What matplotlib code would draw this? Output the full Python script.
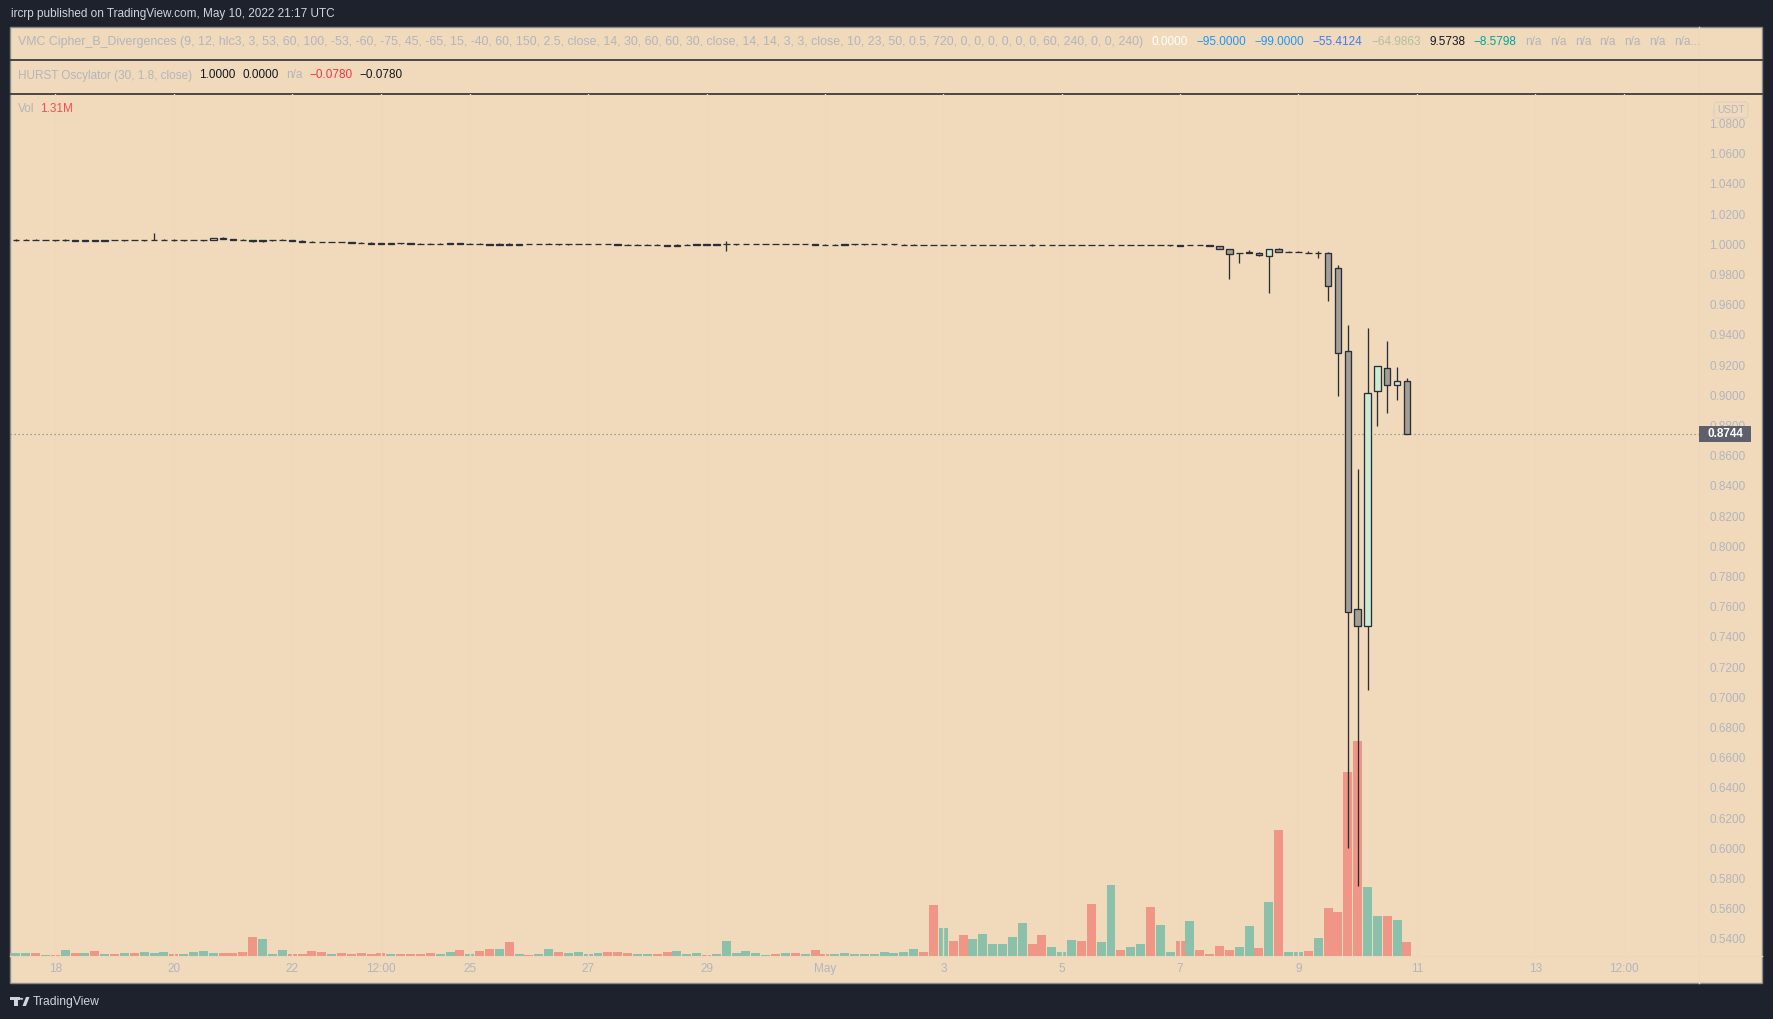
import matplotlib
matplotlib.use("Agg")
import matplotlib.pyplot as plt
import matplotlib.dates as mdates
import matplotlib.transforms as mtransforms
from matplotlib.patches import Rectangle, Polygon, Circle
from matplotlib.lines import Line2D
import pandas as pd

plt.rcParams['font.family'] = ['Liberation Sans', 'DejaVu Sans']

# ----------------------------------------------------------------- data
bar_start = '2022-04-17 04:00'   # 4h candles
bar_freq = '4h'

opens = [
    1.0030, 1.0026, 1.0029, 1.0030, 1.0027,                  # Apr 17
    1.0029, 1.0025, 1.0028, 1.0021, 1.0027, 1.0020,          # Apr 18
    1.0028, 1.0026, 1.0028, 1.0026, 1.0028, 1.0029,          # Apr 19
    1.0030, 1.0025, 1.0026, 1.0025, 1.0026, 1.0042,          # Apr 20
    1.0036, 1.0030, 1.0027, 1.0020, 1.0026, 1.0027,          # Apr 21
    1.0028, 1.0023, 1.0018, 1.0016, 1.0013, 1.0016,          # Apr 22
    1.0013, 1.0010, 1.0011, 1.0006, 1.0005, 1.0007,          # Apr 23
    1.0006, 1.0005, 1.0004, 1.0003, 1.0005, 1.0006,          # Apr 24
    1.0001, 1.0004, 1.0002, 0.9997, 1.0004, 0.9996,          # Apr 25
    1.0002, 1.0000, 1.0002, 1.0004, 0.9999, 1.0001,          # Apr 26
    1.0002, 1.0003, 1.0004, 1.0000, 0.9997, 0.9994,          # Apr 27
    0.9997, 0.9998, 0.9993, 0.9991, 0.9997, 0.9998,          # Apr 28
    0.9999, 0.9998, 0.9999, 1.0000, 1.0001, 1.0002,          # Apr 29
    1.0003, 1.0003, 1.0001, 1.0002, 1.0000, 1.0001,          # Apr 30
    0.9998, 0.9997, 0.9998, 0.9999, 0.9999, 1.0000,          # May 1
    1.0000, 0.9999, 0.9998, 0.9997, 0.9997, 0.9996,          # May 2
    0.9995, 0.9996, 0.9995, 0.9994, 0.9995, 0.9996,          # May 3
    0.9996, 0.9996, 0.9995, 0.9995, 0.9994, 0.9993,          # May 4
    0.9995, 0.9995, 0.9995, 0.9994, 0.9993, 0.9995,          # May 5
    0.9995, 0.9994, 0.9995, 0.9996, 0.9994, 0.9992,          # May 6
    0.9994, 0.9993, 0.9995, 0.9994, 0.9988, 0.9967,          # May 7
    0.9942, 0.9944, 0.9945, 0.9920, 0.9967, 0.9947,          # May 8
    0.9950, 0.9944, 0.9942, 0.9942, 0.9843, 0.9291,          # May 9
    0.7582, 0.7472, 0.9026, 0.9183, 0.9070, 0.9092,          # May 10
]
highs = [
    1.0032, 1.0034, 1.0033, 1.0033, 1.0031,
    1.0031, 1.0032, 1.0030, 1.0030, 1.0029, 1.0030,
    1.0030, 1.0030, 1.0029, 1.0030, 1.0073, 1.0036,
    1.0032, 1.0029, 1.0030, 1.0028, 1.0042, 1.0046,
    1.0038, 1.0032, 1.0030, 1.0030, 1.0029, 1.0033,
    1.0029, 1.0025, 1.0021, 1.0018, 1.0018, 1.0017,
    1.0015, 1.0012, 1.0012, 1.0009, 1.0009, 1.0008,
    1.0008, 1.0007, 1.0006, 1.0008, 1.0010, 1.0007,
    1.0006, 1.0006, 1.0004, 1.0006, 1.0006, 1.0003,
    1.0003, 1.0004, 1.0006, 1.0005, 1.0004, 1.0004,
    1.0004, 1.0005, 1.0005, 1.0002, 0.9999, 0.9999,
    1.0000, 0.9999, 0.9995, 0.9999, 1.0000, 1.0001,
    1.0000, 1.0001, 1.0024, 1.0005, 1.0004, 1.0004,
    1.0004, 1.0004, 1.0004, 1.0003, 1.0003, 1.0002,
    1.0000, 1.0001, 1.0001, 1.0001, 1.0002, 1.0002,
    1.0002, 1.0001, 1.0000, 0.9999, 0.9998, 0.9998,
    0.9998, 0.9997, 0.9997, 0.9997, 0.9997, 0.9998,
    0.9998, 0.9998, 0.9997, 1.0002, 0.9996, 0.9996,
    0.9996, 0.9997, 0.9996, 0.9995, 0.9996, 0.9997,
    0.9996, 0.9996, 0.9996, 0.9997, 0.9996, 0.9995,
    0.9995, 0.9995, 0.9996, 0.9995, 0.9989, 0.9968,
    0.9944, 0.9962, 0.9948, 0.9968, 0.9976, 0.9956,
    0.9953, 0.9953, 0.9956, 0.9947, 0.9862, 0.9466,
    0.8510, 0.9444, 0.9197, 0.9358, 0.9186, 0.9114,
]
lows = [
    1.0024, 1.0022, 1.0025, 1.0026, 1.0025,
    1.0024, 1.0023, 1.0020, 1.0020, 1.0019, 1.0019,
    1.0025, 1.0024, 1.0025, 1.0024, 1.0026, 1.0027,
    1.0024, 1.0024, 1.0025, 1.0024, 1.0025, 1.0033,
    1.0028, 1.0026, 1.0018, 1.0018, 1.0024, 1.0025,
    1.0022, 1.0017, 1.0015, 1.0012, 1.0012, 1.0012,
    1.0009, 1.0007, 1.0002, 1.0004, 1.0004, 1.0005,
    1.0004, 1.0004, 1.0003, 1.0002, 1.0004, 1.0000,
    1.0000, 1.0001, 0.9996, 0.9996, 0.9995, 0.9995,
    0.9999, 0.9999, 1.0001, 0.9998, 0.9998, 1.0000,
    1.0001, 1.0002, 0.9999, 0.9996, 0.9993, 0.9993,
    0.9996, 0.9992, 0.9990, 0.9990, 0.9996, 0.9997,
    0.9997, 0.9997, 0.9958, 0.9998, 0.9999, 1.0000,
    1.0001, 1.0000, 1.0000, 0.9999, 0.9999, 0.9997,
    0.9996, 0.9996, 0.9997, 0.9998, 0.9998, 0.9999,
    0.9998, 0.9998, 0.9997, 0.9996, 0.9995, 0.9994,
    0.9994, 0.9994, 0.9993, 0.9993, 0.9994, 0.9995,
    0.9995, 0.9995, 0.9994, 0.9990, 0.9993, 0.9993,
    0.9994, 0.9994, 0.9993, 0.9993, 0.9993, 0.9994,
    0.9993, 0.9993, 0.9994, 0.9994, 0.9993, 0.9991,
    0.9990, 0.9993, 0.9993, 0.9990, 0.9967, 0.9773,
    0.9879, 0.9943, 0.9925, 0.9679, 0.9947, 0.9946,
    0.9949, 0.9941, 0.9912, 0.9621, 0.8998, 0.6001,
    0.5750, 0.7048, 0.8798, 0.8884, 0.8970, 0.8744,
]
closes = [
    1.0026, 1.0029, 1.0030, 1.0027, 1.0029,
    1.0025, 1.0028, 1.0021, 1.0027, 1.0020, 1.0028,
    1.0026, 1.0028, 1.0026, 1.0028, 1.0029, 1.0030,
    1.0025, 1.0026, 1.0027, 1.0026, 1.0039, 1.0036,
    1.0030, 1.0027, 1.0020, 1.0026, 1.0027, 1.0028,
    1.0023, 1.0018, 1.0016, 1.0013, 1.0016, 1.0013,
    1.0010, 1.0008, 1.0003, 1.0005, 1.0007, 1.0006,
    1.0005, 1.0004, 1.0003, 1.0005, 1.0006, 1.0001,
    1.0004, 1.0002, 0.9997, 1.0004, 0.9996, 1.0002,
    1.0000, 1.0002, 1.0004, 0.9999, 1.0001, 1.0002,
    1.0003, 1.0004, 1.0000, 0.9997, 0.9994, 0.9997,
    0.9998, 0.9993, 0.9991, 0.9997, 0.9998, 0.9999,
    0.9998, 0.9999, 1.0000, 1.0001, 1.0002, 1.0003,
    1.0003, 1.0001, 1.0002, 1.0000, 1.0001, 0.9998,
    0.9997, 0.9998, 0.9999, 0.9999, 1.0000, 1.0000,
    1.0000, 0.9999, 0.9998, 0.9997, 0.9996, 0.9995,
    0.9996, 0.9995, 0.9994, 0.9995, 0.9996, 0.9996,
    0.9996, 0.9996, 0.9995, 0.9994, 0.9993, 0.9995,
    0.9995, 0.9995, 0.9994, 0.9993, 0.9995, 0.9995,
    0.9994, 0.9995, 0.9995, 0.9995, 0.9995, 0.9994,
    0.9991, 0.9994, 0.9994, 0.9991, 0.9968, 0.9934,
    0.9943, 0.9946, 0.9926, 0.9967, 0.9948, 0.9948,
    0.9952, 0.9942, 0.9943, 0.9726, 0.9283, 0.7566,
    0.7472, 0.9012, 0.9197, 0.9070, 0.9092, 0.8744,
]
volume_m = [
    0.28, 0.28, 0.28, 0.28, 0.09,
    0.09, 0.56, 0.28, 0.28, 0.47, 0.19,
    0.19, 0.28, 0.28, 0.37, 0.28, 0.37,
    0.19, 0.19, 0.37, 0.47, 0.28, 0.28,
    0.28, 0.37, 1.78, 1.59, 0.19, 0.56,
    0.19, 0.19, 0.47, 0.37, 0.19, 0.28,
    0.19, 0.28, 0.19, 0.28, 0.19, 0.19,
    0.19, 0.19, 0.28, 0.19, 0.37, 0.56,
    0.19, 0.47, 0.66, 0.66, 1.31, 0.19,
    0.09, 0.19, 0.66, 0.37, 0.28, 0.37,
    0.19, 0.28, 0.37, 0.37, 0.28, 0.19,
    0.19, 0.19, 0.37, 0.47, 0.19, 0.28,
    0.09, 0.19, 1.40, 0.28, 0.47, 0.28,
    0.09, 0.19, 0.28, 0.28, 0.19, 0.56,
    0.19, 0.19, 0.28, 0.19, 0.19, 0.19,
    0.37, 0.28, 0.37, 0.66, 0.37, 4.77,
    2.62, 1.40, 1.97, 1.59, 2.06, 1.12,
    1.12, 1.78, 3.09, 1.12, 1.97, 0.84,
    0.37, 1.50, 1.40, 4.87, 1.31, 6.65,
    0.56, 0.84, 1.12, 4.59, 2.90, 0.37,
    1.40, 3.28, 0.56, 0.19, 0.94, 0.56,
    0.84, 2.81, 0.75, 5.05, 11.79, 0.37,
    0.37, 0.47, 1.68, 4.49, 4.12, 17.22,
    20.12, 6.46, 3.74, 3.74, 3.37, 1.31,
]
last_price = 0.8744

price_ticks = [0.54, 0.56, 0.58, 0.60, 0.62, 0.64, 0.66, 0.68, 0.70, 0.72,
               0.74, 0.76, 0.78, 0.80, 0.82, 0.84, 0.86, 0.88, 0.90, 0.92,
               0.94, 0.96, 0.98, 1.00, 1.02, 1.04, 1.06, 1.08]
time_tick_dates = ['2022-04-18 00:00', '2022-04-20 00:00', '2022-04-22 00:00',
                   '2022-04-23 12:00', '2022-04-25 00:00', '2022-04-27 00:00',
                   '2022-04-29 00:00', '2022-05-01 00:00', '2022-05-03 00:00',
                   '2022-05-05 00:00', '2022-05-07 00:00', '2022-05-09 00:00',
                   '2022-05-11 00:00', '2022-05-13 00:00', '2022-05-14 12:00']
time_tick_labels = ['18', '20', '22', '12:00', '25', '27', '29', 'May',
                    '3', '5', '7', '9', '11', '13', '12:00']

header_text = "ircrp published on TradingView.com, May 10, 2022 21:17 UTC"
vmc_label = ("VMC Cipher_B_Divergences (9, 12, hlc3, 3, 53, 60, 100, -53, -60, -75, 45, "
             "-65, 15, -40, 60, 150, 2.5, close, 14, 30, 60, 60, 30, close, 14, 14, 3, 3, "
             "close, 10, 23, 50, 0.5, 720, 0, 0, 0, 0, 0, 0, 60, 240, 0, 0, 240)")
vmc_values = ["0.0000", "\u221295.0000", "\u221299.0000", "\u221255.4124",
              "\u221264.9863", "9.5738", "\u22128.5798",
              "n/a", "n/a", "n/a", "n/a", "n/a", "n/a", "n/a..."]
hurst_label = "HURST Oscylator (30, 1.8, close)"
hurst_values = ["1.0000", "0.0000", "n/a", "\u22120.0780", "\u22120.0780"]
vol_label = "Vol"
vol_value = "1.31M"

# ----------------------------------------------------------------- style
W, H = 1773, 1019
BG = '#f0dabb'
DARK = '#1e222d'
SEP = '#2a2e39'
GRAY_TXT = '#b2b5be'
EDGE = '#2a2e39'
UP_BODY = '#cdebd2'
DN_BODY = '#a59e94'
VOL_UP = '#8bc0aa'
VOL_DN = '#f09686'
FS = 8.5

vmc_colors = ['#ffffff', '#2196f3', '#2196f3', '#3a7ef2', '#b3bf9f', '#131722',
              '#00a39a'] + [GRAY_TXT] * 7
hurst_colors = ['#131722', '#131722', GRAY_TXT, '#f23645', '#131722']

fig = plt.figure(figsize=(W / 100, H / 100), dpi=100, facecolor=DARK)


def fx(px):
    return px / W


def fy(py):
    return 1 - py / H


# chart panel background
fig.patches.append(Rectangle((fx(10), fy(983)), fx(1762) - fx(10), fy(27) - fy(983),
                             transform=fig.transFigure, facecolor=BG, edgecolor='#8a8a8a',
                             lw=1.0, zorder=-5))
# pane separators
for yy in (60, 94):
    fig.lines.append(Line2D([fx(10), fx(1762)], [fy(yy), fy(yy)], transform=fig.transFigure,
                            color=SEP, lw=1.2, zorder=1))
# price scale separator and time scale separator (faint)
fig.lines.append(Line2D([fx(1699), fx(1699)], [fy(27), fy(983)], transform=fig.transFigure,
                        color='#edd7b7', lw=1.0, zorder=0))
fig.lines.append(Line2D([fx(10), fx(1762)], [fy(956), fy(956)], transform=fig.transFigure,
                        color='#edd7b7', lw=1.0, zorder=0))

# ----------------------------------------------------------------- axes
rect = [fx(10), fy(956), fx(1699) - fx(10), fy(94) - fy(956)]
axv = fig.add_axes(rect, zorder=1)
ax = fig.add_axes(rect, zorder=2, sharex=axv)
for a in (axv, ax):
    a.set_facecolor('none')
    for s in a.spines.values():
        s.set_visible(False)
axv.set_yticks([])
axv.tick_params(axis='x', length=0, labelbottom=False)

times = pd.date_range(bar_start, periods=len(closes), freq=bar_freq)
xs = mdates.date2num(times)
day = 1.0
bar_w_vol = 0.152 * day
bar_w_body = 0.11 * day

up = [c >= o for o, c in zip(opens, closes)]

# volume
axv.bar(xs, volume_m, width=bar_w_vol, color=[VOL_UP if u else VOL_DN for u in up],
        linewidth=0, zorder=1)
axv.set_ylim(0, 80.66)

# grid (very faint)
tick_x = mdates.date2num(pd.to_datetime(time_tick_dates, format='%Y-%m-%d %H:%M'))
for tx in tick_x:
    ax.axvline(tx, color='#eed8b9', lw=1.0, zorder=0.5)

# candles
ax.vlines(xs, lows, highs, color=EDGE, lw=0.95, zorder=3)
body_bottom = [min(o, c) for o, c in zip(opens, closes)]
body_height = [abs(c - o) for o, c in zip(opens, closes)]
ax.bar(xs, body_height, bottom=body_bottom, width=bar_w_body,
       color=[UP_BODY if u else DN_BODY for u in up], edgecolor=EDGE, linewidth=0.95,
       zorder=4)

x0 = mdates.date2num(pd.Timestamp('2022-04-18'))
ax.set_xlim(x0 - 0.767, x0 + 27.767)
ax.set_ylim(0.5287, 1.0995)

# last price line
ax.axhline(last_price, color='#8d8a85', lw=0.9, ls=(0, (1, 2.2)), zorder=2.5)

ax.yaxis.tick_right()
ax.set_yticks(price_ticks)
ax.set_yticklabels([f'{t:.4f}' for t in price_ticks])
ax.tick_params(axis='y', length=0, pad=7.2, labelsize=FS, labelcolor=GRAY_TXT)
ax.set_xticks(tick_x)
ax.set_xticklabels(time_tick_labels)
ax.tick_params(axis='x', length=0, pad=5, labelsize=FS, labelcolor=GRAY_TXT)

# last price box
btr = mtransforms.blended_transform_factory(fig.transFigure, ax.transData)
box_h = 16 / 1510
ax.add_patch(Rectangle((fx(1699), last_price - box_h / 2), fx(1751) - fx(1699), box_h,
                       transform=btr, facecolor='#5d606b', edgecolor='none',
                       clip_on=False, zorder=10))
ax.text(fx(1725), last_price, f'{last_price:.4f}', transform=btr, ha='center',
        va='center', color='white', fontsize=FS, fontweight='bold', clip_on=False,
        zorder=11)

# USDT
fig.text(fx(1731), fy(110), 'USDT', ha='center', va='center', fontsize=7.3,
         color=GRAY_TXT,
         bbox=dict(boxstyle='round,pad=0.3,rounding_size=0.3', fc='none',
                   ec='#e0d2bf', lw=1.0))

# ----------------------------------------------------------------- header texts
renderer = fig.canvas.get_renderer()


def chain(x_start, y, pieces, gap=7):
    xx = x_start
    for s, c, size in pieces:
        t = fig.text(fx(xx), fy(y), s, color=c, fontsize=size, ha='left', va='center')
        bb = t.get_window_extent(renderer=renderer)
        xx = bb.x1 + gap


fig.text(fx(11), fy(13.6), header_text, color='#d1d4dc', fontsize=FS, ha='left',
         va='center')
chain(18, 42, [(vmc_label, GRAY_TXT, 8.88)] +
      [(s, c, FS) for s, c in zip(vmc_values, vmc_colors)], gap=8.5)
chain(18, 75.5, [(hurst_label, GRAY_TXT, FS)] +
      [(s, c, FS) for s, c in zip(hurst_values, hurst_colors)])
chain(18, 109.5, [(vol_label, GRAY_TXT, FS), (vol_value, '#ef5350', FS)], gap=6)

# footer logo
LOGO = '#d1d4dc'
fig.patches.append(Rectangle((fx(10), fy(1000)), fx(19.5) - fx(10), fy(997) - fy(1000),
                             transform=fig.transFigure, fc=LOGO, ec='none'))
fig.patches.append(Rectangle((fx(14), fy(1006)), fx(17.5) - fx(14), fy(997) - fy(1006),
                             transform=fig.transFigure, fc=LOGO, ec='none'))
fig.patches.append(Circle((fx(21.5), fy(998.8)), fx(1.7), transform=fig.transFigure,
                          fc=LOGO, ec='none'))
fig.patches.append(Polygon([(fx(22.5), fy(1006)), (fx(26), fy(997)), (fx(29.5), fy(997)),
                            (fx(26), fy(1006))], closed=True, transform=fig.transFigure,
                           fc=LOGO, ec='none'))
fig.text(fx(32.5), fy(1001.5), 'TradingView', color=LOGO, fontsize=8.7, ha='left',
         va='center')

fig.savefig('out.png', dpi=100, facecolor=DARK)
